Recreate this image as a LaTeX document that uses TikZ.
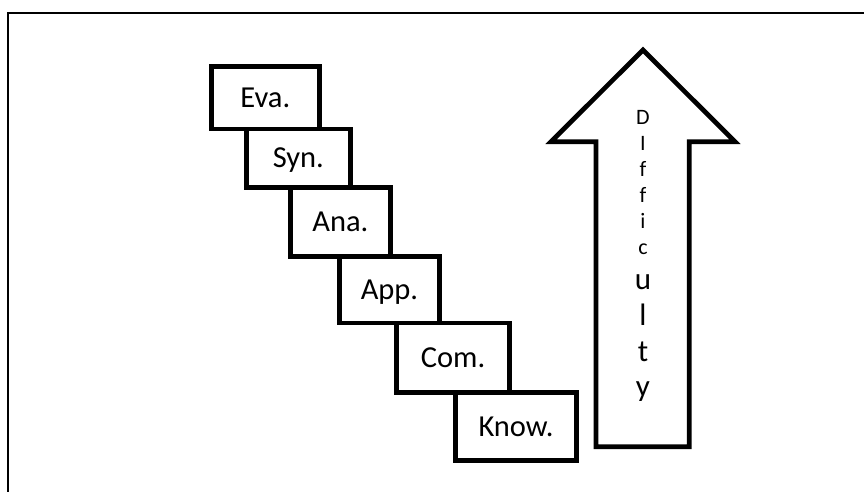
\documentclass[tikz,border=0pt]{standalone}
\usepackage{fontspec}
\setmainfont{Carlito}
\begin{document}
\begin{tikzpicture}[x=1bp,y=-1bp,
  stepbox/.style={draw=black, line width=4.7bp, inner sep=0pt, align=center,
    text height=19.5bp, text depth=0bp, font=\fontsize{30.5bp}{36bp}\selectfont},
  smallch/.style={anchor=base, inner sep=0pt, font=\fontsize{22bp}{26bp}\selectfont},
  bigch/.style={anchor=base, inner sep=0pt, font=\fontsize{31bp}{36bp}\selectfont},
  thickline/.style={draw=black, line width=4.7bp, line join=miter}]
\useasboundingbox (0,0) rectangle (864,492);
% frame
\draw[line width=2bp] (8,500) -- (8,13) -- (870,13);
% staircase boxes
\node[stepbox, minimum width=107.7bp, minimum height=62.4bp] (eva) at (265.35,97.7) {Eva.};
\node[stepbox, minimum width=103.7bp, minimum height=58.4bp] (syn) at (298.35,158.1) {Syn.};
\node[stepbox, minimum width=100.3bp, minimum height=69bp] (ana) at (340.35,221.8) {Ana.};
\node[stepbox, minimum width=100.6bp, minimum height=66.7bp] (app) at (389.5,289.65) {App.};
\node[stepbox, minimum width=112.4bp, minimum height=69.7bp] (com) at (453,357.85) {Com.};
\node[stepbox, minimum width=121.6bp, minimum height=67.8bp] (know) at (516,426.6) {Know.};
% arrow
\draw[thickline] (596,446.8) -- (596,141.7) -- (551,141.7) -- (643,50)
  -- (735,141.7) -- (689.3,141.7) -- (689.3,446.8) -- cycle;
% vertical text
\foreach \ch/\yy [count=\i] in {D/125, I/151, f/177, f/203, i/229, c/255}
  \node[smallch] (d\i) at (643,\yy) {\ch};
\foreach \ch/\yy [count=\i from 7] in {u/289.3, l/325.5, t/361, y/396.5}
  \node[bigch] (d\i) at (643,\yy) {\ch};
\end{tikzpicture}
\end{document}
